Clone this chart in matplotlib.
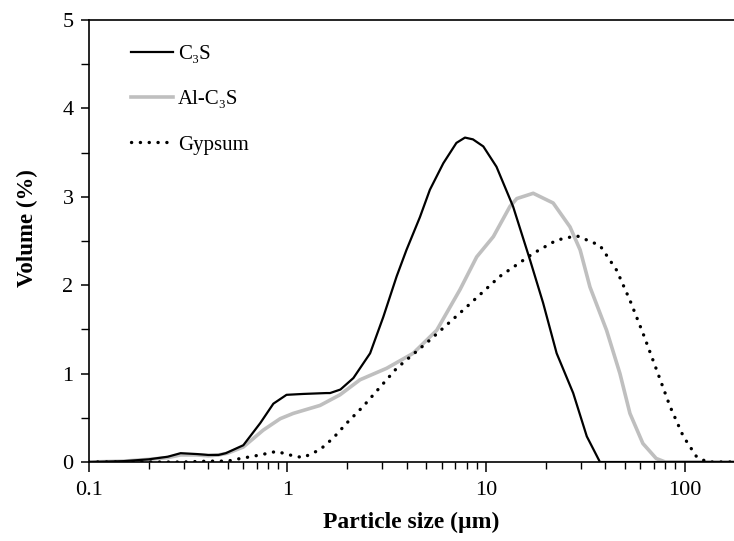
import numpy as np
import matplotlib.pyplot as plt
from matplotlib.ticker import FixedLocator, LogLocator, NullFormatter, MultipleLocator

plt.rcParams['font.family'] = ['Liberation Serif', 'DejaVu Serif']

# particle size distributions
c3s_x = [0.1, 0.15, 0.2, 0.25, 0.29, 0.35, 0.4, 0.45, 0.49, 0.6, 0.73, 0.85, 0.99, 1.2,
         1.57, 1.64, 1.85, 2.15, 2.61, 3.04, 3.55, 3.98, 4.65, 5.22, 6.1, 7.1, 7.84, 8.6,
         9.7, 11.3, 13.7, 16.7, 19.4, 22.7, 27.5, 32.2, 37.5, 45, 60, 100, 180]
c3s_y = [0.0, 0.01, 0.03, 0.06, 0.1, 0.09, 0.08, 0.08, 0.1, 0.19, 0.44, 0.66, 0.76, 0.77,
         0.78, 0.78, 0.82, 0.95, 1.23, 1.64, 2.10, 2.40, 2.77, 3.08, 3.38, 3.61, 3.67, 3.65,
         3.57, 3.34, 2.89, 2.28, 1.80, 1.23, 0.78, 0.29, 0.0, 0.0, 0.0, 0.0, 0.0]

al_x = [0.1, 0.15, 0.2, 0.25, 0.29, 0.35, 0.4, 0.45, 0.5, 0.6, 0.755, 0.92, 1.07, 1.46,
        1.84, 2.32, 3.16, 4.3, 5.65, 7.4, 8.98, 10.9, 13.2, 14.3, 17.3, 21.8, 26.5, 29.8,
        33.4, 40.5, 47.3, 53.1, 61.7, 72, 80, 100, 180]
al_y = [0.0, 0.01, 0.03, 0.05, 0.08, 0.08, 0.07, 0.08, 0.1, 0.17, 0.36, 0.49, 0.55, 0.64,
        0.76, 0.93, 1.06, 1.23, 1.49, 1.95, 2.32, 2.55, 2.89, 2.98, 3.04, 2.93, 2.66, 2.40,
        1.98, 1.49, 1.00, 0.55, 0.21, 0.04, 0.0, 0.0, 0.0]

gyp_x = [0.1, 0.2, 0.3, 0.4, 0.5, 0.55, 0.73, 0.88, 1.07, 1.2, 1.46, 1.7, 1.99, 2.41,
         3.55, 5.22, 7.69, 11.75, 17.3, 22.7, 28.6, 37.5, 45.5, 53.1, 61.7, 72.4, 84.5,
         98.6, 115, 130, 180]
gyp_y = [0.0, 0.0, 0.0, 0.01, 0.01, 0.03, 0.08, 0.12, 0.07, 0.05, 0.14, 0.27, 0.44, 0.63,
         1.06, 1.38, 1.72, 2.10, 2.36, 2.51, 2.56, 2.45, 2.17, 1.83, 1.46, 1.04, 0.63,
         0.29, 0.06, 0.0, 0.0]

fig = plt.figure(figsize=(7.34, 5.41), dpi=100)
ax = fig.add_axes([0.121, 0.146, 0.879, 0.817])

ax.plot(c3s_x, c3s_y, color='black', lw=1.6, label='C\u2083S', zorder=3)
ax.plot(al_x, al_y, color='#bfbfbf', lw=2.6, label='Al-C\u2083S', zorder=2)
ax.plot(gyp_x, gyp_y, color='black', lw=2.4, linestyle=(0, (0.05, 2.6)),
        dash_capstyle='round', label='Gypsum', zorder=2)

ax.set_xscale('log')
ax.set_xlim(0.1, 177.5)
ax.set_ylim(0, 5)
ax.xaxis.set_major_locator(FixedLocator([0.1, 1, 10, 100]))
ax.set_xticklabels(['0.1', '1', '10', '100'])
ax.xaxis.set_minor_locator(LogLocator(base=10, subs=np.arange(2, 10)))
ax.xaxis.set_minor_formatter(NullFormatter())
ax.yaxis.set_major_locator(MultipleLocator(1))
ax.yaxis.set_minor_locator(MultipleLocator(0.5))

ax.spines['right'].set_visible(False)
for s in ['left', 'bottom', 'top']:
    ax.spines[s].set_linewidth(1.2)

ax.tick_params(axis='both', which='major', direction='out', width=1.1, labelsize=16)
ax.tick_params(axis='x', which='major', length=7, pad=7)
ax.tick_params(axis='x', which='minor', length=5, width=1.0)
ax.tick_params(axis='y', which='major', length=6, pad=5)
ax.tick_params(axis='y', which='minor', length=6, width=1.0)

ax.set_xlabel('Particle size (\u00b5m)', fontsize=17, fontweight='bold', labelpad=8)
ax.set_ylabel('Volume (%)', fontsize=16.5, fontweight='bold')
ax.yaxis.set_label_coords(-0.078, 0.53)

ax.legend(loc='upper left', frameon=False, fontsize=15, handlelength=2.0,
          handletextpad=0.25, labelspacing=1.24, borderaxespad=0,
          bbox_to_anchor=(0.053, 0.964))

fig.savefig('out.png', dpi=100)
